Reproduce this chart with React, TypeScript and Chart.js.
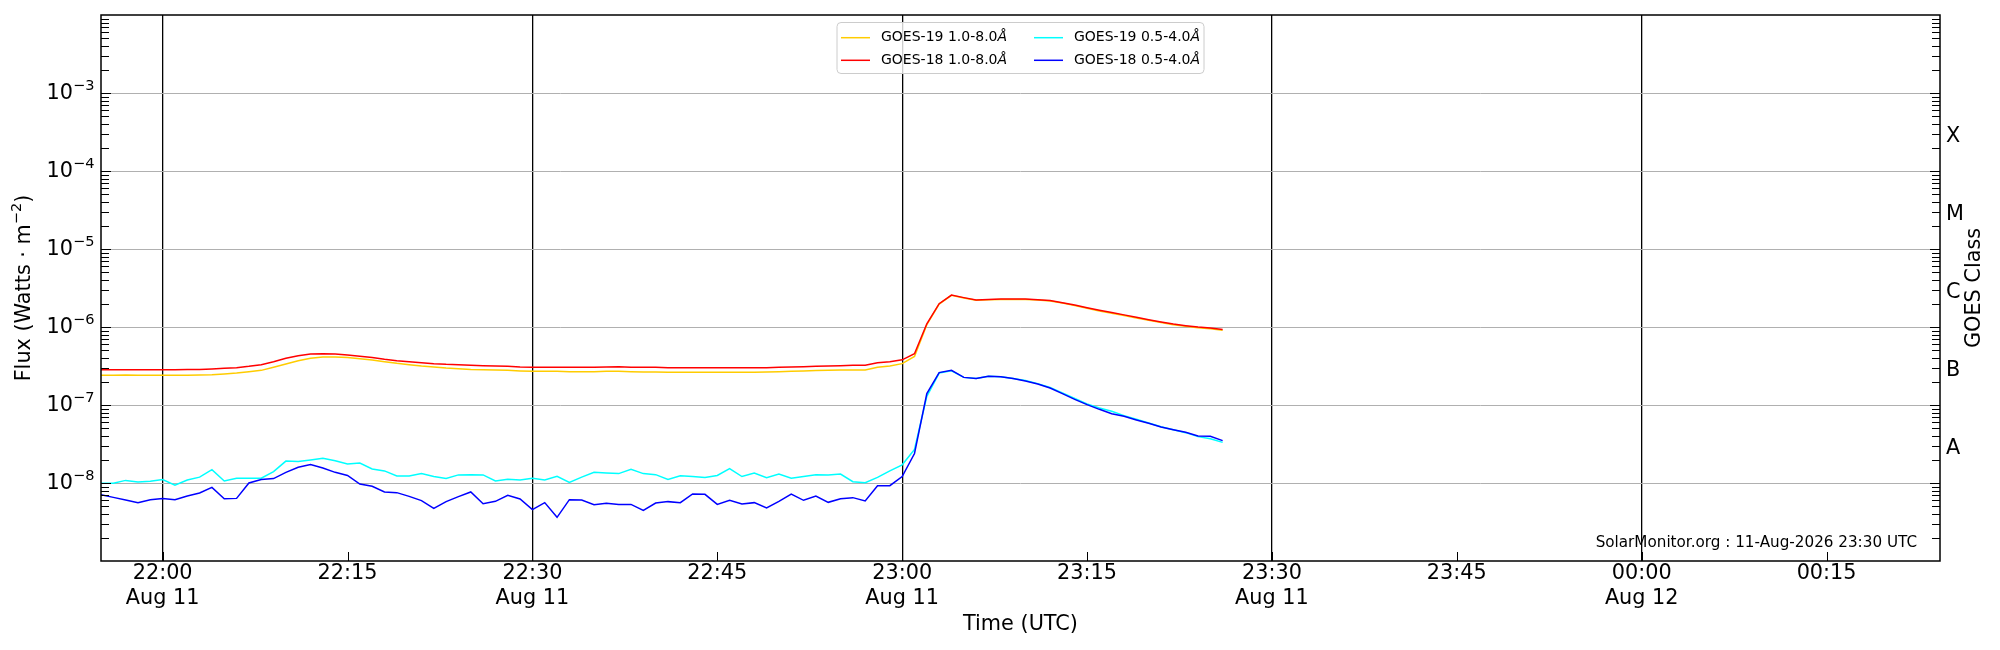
import React, { useEffect, useRef } from 'react';
import { Chart, registerables } from 'chart.js';

Chart.register(...registerables);

const FONT = "'DejaVu Sans', 'Noto Sans', sans-serif";
const FS = 20.8;

// One-minute samples, first sample at 21:55 UTC (minutes relative to 22:00 UTC, 11 Aug)
const START_MINUTE = -5;

const goes19Long = [
  2.40e-7, 2.40e-7, 2.43e-7, 2.40e-7, 2.40e-7, 2.40e-7, 2.40e-7, 2.40e-7, 2.43e-7, 2.45e-7,
  2.50e-7, 2.57e-7, 2.67e-7, 2.78e-7, 3.04e-7, 3.35e-7, 3.70e-7, 3.97e-7, 4.12e-7, 4.12e-7,
  4.05e-7, 3.93e-7, 3.77e-7, 3.59e-7, 3.42e-7, 3.29e-7, 3.16e-7, 3.07e-7, 2.98e-7, 2.92e-7,
  2.86e-7, 2.84e-7, 2.81e-7, 2.78e-7, 2.73e-7, 2.70e-7, 2.70e-7, 2.70e-7, 2.67e-7, 2.67e-7,
  2.67e-7, 2.70e-7, 2.70e-7, 2.67e-7, 2.65e-7, 2.65e-7, 2.62e-7, 2.62e-7, 2.62e-7, 2.62e-7,
  2.62e-7, 2.62e-7, 2.62e-7, 2.62e-7, 2.65e-7, 2.67e-7, 2.70e-7, 2.73e-7, 2.76e-7, 2.78e-7,
  2.81e-7, 2.81e-7, 2.81e-7, 3.04e-7, 3.16e-7, 3.39e-7, 4.19e-7, 1.07e-6, 1.97e-6, 2.55e-6,
  2.36e-6, 2.20e-6, 2.24e-6, 2.26e-6, 2.26e-6, 2.26e-6, 2.22e-6, 2.16e-6, 2.03e-6, 1.88e-6,
  1.74e-6, 1.60e-6, 1.50e-6, 1.40e-6, 1.30e-6, 1.22e-6, 1.14e-6, 1.07e-6, 1.02e-6, 9.8e-7,
  9.5e-7, 9.1e-7,
];

const goes18Long = [
  2.84e-7, 2.84e-7, 2.84e-7, 2.84e-7, 2.84e-7, 2.84e-7, 2.84e-7, 2.86e-7, 2.86e-7, 2.90e-7,
  2.95e-7, 3.01e-7, 3.13e-7, 3.29e-7, 3.59e-7, 3.97e-7, 4.29e-7, 4.51e-7, 4.55e-7, 4.51e-7,
  4.38e-7, 4.21e-7, 4.05e-7, 3.85e-7, 3.70e-7, 3.59e-7, 3.49e-7, 3.39e-7, 3.32e-7, 3.29e-7,
  3.23e-7, 3.19e-7, 3.16e-7, 3.13e-7, 3.07e-7, 3.04e-7, 3.04e-7, 3.04e-7, 3.04e-7, 3.04e-7,
  3.04e-7, 3.07e-7, 3.10e-7, 3.04e-7, 3.04e-7, 3.04e-7, 3.01e-7, 3.01e-7, 3.01e-7, 3.01e-7,
  3.01e-7, 3.01e-7, 3.01e-7, 3.01e-7, 3.01e-7, 3.04e-7, 3.07e-7, 3.10e-7, 3.13e-7, 3.16e-7,
  3.19e-7, 3.23e-7, 3.23e-7, 3.49e-7, 3.59e-7, 3.79e-7, 4.55e-7, 1.10e-6, 1.99e-6, 2.57e-6,
  2.38e-6, 2.22e-6, 2.26e-6, 2.29e-6, 2.29e-6, 2.29e-6, 2.24e-6, 2.18e-6, 2.05e-6, 1.91e-6,
  1.77e-6, 1.64e-6, 1.53e-6, 1.43e-6, 1.33e-6, 1.24e-6, 1.16e-6, 1.09e-6, 1.04e-6, 1.00e-6,
  9.7e-7, 9.3e-7,
];

const goes19Short = [
  9.9e-9, 9.9e-9, 1.08e-8, 1.03e-8, 1.05e-8, 1.11e-8, 9.4e-9, 1.09e-8, 1.19e-8, 1.48e-8,
  1.06e-8, 1.15e-8, 1.15e-8, 1.15e-8, 1.40e-8, 1.91e-8, 1.88e-8, 1.97e-8, 2.07e-8, 1.93e-8,
  1.75e-8, 1.80e-8, 1.51e-8, 1.43e-8, 1.23e-8, 1.23e-8, 1.32e-8, 1.21e-8, 1.14e-8, 1.27e-8,
  1.28e-8, 1.27e-8, 1.06e-8, 1.12e-8, 1.09e-8, 1.15e-8, 1.09e-8, 1.22e-8, 1.02e-8, 1.19e-8,
  1.37e-8, 1.34e-8, 1.32e-8, 1.50e-8, 1.32e-8, 1.28e-8, 1.11e-8, 1.24e-8, 1.21e-8, 1.18e-8,
  1.25e-8, 1.53e-8, 1.21e-8, 1.34e-8, 1.17e-8, 1.30e-8, 1.15e-8, 1.21e-8, 1.28e-8, 1.27e-8,
  1.30e-8, 1.04e-8, 1.01e-8, 1.18e-8, 1.43e-8, 1.71e-8, 2.70e-8, 1.29e-7, 2.57e-7, 2.75e-7,
  2.26e-7, 2.18e-7, 2.33e-7, 2.31e-7, 2.18e-7, 2.06e-7, 1.88e-7, 1.68e-7, 1.43e-7, 1.21e-7,
  1.03e-7, 9.16e-8, 8.3e-8, 7.3e-8, 6.55e-8, 5.88e-8, 5.27e-8, 4.83e-8, 4.42e-8, 3.93e-8,
  3.70e-8, 3.32e-8,
];

const goes18Short = [
  7.08e-9, 6.54e-9, 6.05e-9, 5.60e-9, 6.11e-9, 6.35e-9, 6.11e-9, 6.81e-9, 7.44e-9, 8.80e-9,
  6.29e-9, 6.35e-9, 1.00e-8, 1.11e-8, 1.14e-8, 1.37e-8, 1.59e-8, 1.72e-8, 1.56e-8, 1.37e-8,
  1.25e-8, 9.7e-9, 9.06e-9, 7.67e-9, 7.52e-9, 6.74e-9, 5.94e-9, 4.73e-9, 5.77e-9, 6.68e-9,
  7.67e-9, 5.43e-9, 5.82e-9, 6.95e-9, 6.24e-9, 4.55e-9, 5.60e-9, 3.63e-9, 6.11e-9, 6.05e-9,
  5.27e-9, 5.48e-9, 5.32e-9, 5.32e-9, 4.46e-9, 5.54e-9, 5.77e-9, 5.60e-9, 7.23e-9, 7.16e-9,
  5.32e-9, 6.00e-9, 5.38e-9, 5.60e-9, 4.78e-9, 5.82e-9, 7.23e-9, 6.00e-9, 6.81e-9, 5.65e-9,
  6.29e-9, 6.49e-9, 5.88e-9, 9.24e-9, 9.24e-9, 1.21e-8, 2.39e-8, 1.40e-7, 2.60e-7, 2.78e-7,
  2.26e-7, 2.18e-7, 2.33e-7, 2.31e-7, 2.18e-7, 2.03e-7, 1.86e-7, 1.65e-7, 1.40e-7, 1.18e-7,
  1.01e-7, 8.8e-8, 7.74e-8, 7.16e-8, 6.43e-8, 5.82e-8, 5.23e-8, 4.83e-8, 4.46e-8, 4.01e-8,
  3.97e-8, 3.49e-8,
];

const seriesNames = ['GOES-19 1.0-8.0', 'GOES-18 1.0-8.0', 'GOES-19 0.5-4.0', 'GOES-18 0.5-4.0'];
const seriesUnit = 'Å';
const seriesColors = ['#FFCC00', '#FF0000', '#00FFFF', '#0000FF'];

const xMin = -5; // 21:55
const xMax = 144.2; // ~00:24
const xTickMinutes = [0, 15, 30, 45, 60, 75, 90, 105, 120, 135];
const xTickTimes = ['22:00', '22:15', '22:30', '22:45', '23:00', '23:15', '23:30', '23:45', '00:00', '00:15'];
const xTickDates = ['Aug 11', '', 'Aug 11', '', 'Aug 11', '', 'Aug 11', '', 'Aug 12', ''];

const yMin = 1e-9;
const yMax = 1e-2;
const yTickValues = [1e-8, 1e-7, 1e-6, 1e-5, 1e-4, 1e-3];
const yTickExponents = ['−8', '−7', '−6', '−5', '−4', '−3'];
const classTickValues = [3e-8, 3e-7, 3e-6, 3e-5, 3e-4];
const classTickLabels = ['A', 'B', 'C', 'M', 'X'];

const yTitleParts = ['Flux (Watts · m', '−2', ')'];
const y2Title = 'GOES Class';
const creditText = 'SolarMonitor.org : 11-Aug-2026 23:30 UTC';

const SUP = FS * 0.7;
const SUP_SHIFT = 7.4;

const decorPlugin = {
  id: 'goesDecor',
  afterDatasetsDraw(chart: any) {
    const { ctx, chartArea: a, scales } = chart;
    const ys = scales.y;
    const xs = scales.x;
    ctx.save();

    const seg = (x1: number, y1: number, x2: number, y2: number) => {
      ctx.beginPath();
      ctx.moveTo(x1, y1);
      ctx.lineTo(x2, y2);
      ctx.stroke();
    };

    // inward ticks on both y sides
    ctx.strokeStyle = '#000';
    ctx.lineWidth = 1;
    for (let n = -9; n <= -3; n++) {
      for (let k = 1; k <= 9; k++) {
        if (n === -9 && k === 1) continue;
        const v = k * Math.pow(10, n);
        const py = Math.round(ys.getPixelForValue(v)) + 0.5;
        const len = k === 1 ? 10 : 8;
        seg(a.left, py, a.left + len, py);
        seg(a.right - len, py, a.right, py);
      }
    }
    // inward x ticks
    xTickMinutes.forEach((m) => {
      const px = Math.round(xs.getPixelForValue(m)) + 0.5;
      seg(px, a.bottom, px, a.bottom - 9);
    });

    // legend box
    const lx = 837, ly = 22.5, lw = 367, lh = 51, r = 4;
    ctx.beginPath();
    ctx.moveTo(lx + r, ly);
    ctx.lineTo(lx + lw - r, ly);
    ctx.quadraticCurveTo(lx + lw, ly, lx + lw, ly + r);
    ctx.lineTo(lx + lw, ly + lh - r);
    ctx.quadraticCurveTo(lx + lw, ly + lh, lx + lw - r, ly + lh);
    ctx.lineTo(lx + r, ly + lh);
    ctx.quadraticCurveTo(lx, ly + lh, lx, ly + lh - r);
    ctx.lineTo(lx, ly + r);
    ctx.quadraticCurveTo(lx, ly, lx + r, ly);
    ctx.closePath();
    ctx.fillStyle = 'rgba(255,255,255,0.8)';
    ctx.fill();
    ctx.strokeStyle = '#cccccc';
    ctx.lineWidth = 1;
    ctx.stroke();

    const colX = [841, 1034];
    const textX = [881, 1074];
    const rowY = [37.7, 60.3];
    chart.data.datasets.forEach((ds: any, i: number) => {
      const col = Math.floor(i / 2);
      const row = i % 2;
      const y = rowY[row];
      ctx.strokeStyle = ds.borderColor;
      ctx.lineWidth = 1.5;
      seg(colX[col], y, colX[col] + 29, y);
      ctx.fillStyle = '#000';
      ctx.textBaseline = 'middle';
      ctx.textAlign = 'left';
      ctx.font = `14px ${FONT}`;
      const name = seriesNames[i];
      ctx.fillText(name, textX[col], y);
      const w = ctx.measureText(name).width;
      ctx.font = `italic 14px ${FONT}`;
      ctx.fillText(seriesUnit, textX[col] + w, y);
    });

    // frame
    ctx.strokeStyle = '#000';
    ctx.lineWidth = 1.5;
    ctx.strokeRect(a.left, a.top, a.right - a.left, a.bottom - a.top);

    // left tick labels: 10 with superscript exponent
    ctx.fillStyle = '#000';
    ctx.textBaseline = 'middle';
    ctx.textAlign = 'left';
    yTickValues.forEach((v, i) => {
      const py = ys.getPixelForValue(v);
      ctx.font = `${FS}px ${FONT}`;
      const wb = ctx.measureText('10').width;
      ctx.font = `${SUP}px ${FONT}`;
      const wsup = ctx.measureText(yTickExponents[i]).width;
      const x0 = a.left - 6.5 - wb - wsup;
      ctx.font = `${FS}px ${FONT}`;
      ctx.fillText('10', x0, py + 1);
      ctx.font = `${SUP}px ${FONT}`;
      ctx.fillText(yTickExponents[i], x0 + wb, py + 1 - SUP_SHIFT);
    });

    // left axis title with superscript
    ctx.save();
    ctx.translate(24.5, (a.top + a.bottom) / 2);
    ctx.rotate(-Math.PI / 2);
    ctx.font = `${FS}px ${FONT}`;
    const w1 = ctx.measureText(yTitleParts[0]).width;
    const w3 = ctx.measureText(yTitleParts[2]).width;
    ctx.font = `${SUP}px ${FONT}`;
    const w2 = ctx.measureText(yTitleParts[1]).width;
    let tx = -(w1 + w2 + w3) / 2;
    ctx.textAlign = 'left';
    ctx.textBaseline = 'middle';
    ctx.font = `${FS}px ${FONT}`;
    ctx.fillText(yTitleParts[0], tx, 0);
    tx += w1;
    ctx.font = `${SUP}px ${FONT}`;
    ctx.fillText(yTitleParts[1], tx, -SUP_SHIFT);
    tx += w2;
    ctx.font = `${FS}px ${FONT}`;
    ctx.fillText(yTitleParts[2], tx, 0);
    ctx.restore();

    // credit
    ctx.fillStyle = '#000';
    ctx.font = `15.2px ${FONT}`;
    ctx.textAlign = 'right';
    ctx.textBaseline = 'middle';
    ctx.fillText(creditText, a.right - 23, a.bottom - 18);

    // right axis title
    ctx.save();
    ctx.translate(1975, (a.top + a.bottom) / 2);
    ctx.rotate(-Math.PI / 2);
    ctx.font = `${FS}px ${FONT}`;
    ctx.textAlign = 'center';
    ctx.textBaseline = 'middle';
    ctx.fillText(y2Title, 0, 0);
    ctx.restore();

    ctx.restore();
  },
};

const zeroPad = (s: any) => {
  s.paddingTop = 0;
  s.paddingBottom = 0;
  s.paddingLeft = 0;
  s.paddingRight = 0;
};

export default function App() {
  const canvasRef = useRef<HTMLCanvasElement | null>(null);

  useEffect(() => {
    if (!canvasRef.current) return;
    const series = [goes19Long, goes18Long, goes19Short, goes18Short];
    const drawOrder = [3, 2, 1, 0];
    const chart = new Chart(canvasRef.current, {
      type: 'line',
      data: {
        datasets: series.map((vals, i) => ({
          label: seriesNames[i] + seriesUnit,
          data: vals.map((v, j) => ({ x: START_MINUTE + j, y: v })),
          borderColor: seriesColors[i],
          backgroundColor: seriesColors[i],
          borderWidth: 1.5,
          pointRadius: 0,
          tension: 0,
          fill: false,
          order: drawOrder[i],
        })),
      },
      options: {
        animation: false,
        responsive: false,
        maintainAspectRatio: false,
        devicePixelRatio: 1,
        layout: { padding: { top: 15, left: 0, right: 0, bottom: 0 } },
        plugins: {
          legend: { display: false },
          tooltip: { enabled: false },
        },
        scales: {
          x: {
            type: 'linear',
            min: xMin,
            max: xMax,
            afterBuildTicks: (s: any) => {
              s.ticks = xTickMinutes.map((v) => ({ value: v }));
            },
            afterFit: (s: any) => {
              s.height = 89;
              zeroPad(s);
            },
            ticks: {
              autoSkip: false,
              maxRotation: 0,
              minRotation: 0,
              padding: 1,
              color: '#000',
              font: { family: FONT, size: FS, lineHeight: 1.16 },
              callback: (_v: any, i: number) =>
                xTickDates[i] ? [xTickTimes[i], xTickDates[i]] : xTickTimes[i],
            },
            grid: {
              drawTicks: false,
              lineWidth: 1.3,
              color: (c: any) =>
                c.tick && c.tick.value % 30 === 0 ? '#000000' : 'rgba(0,0,0,0)',
            },
            border: { display: false },
            title: {
              display: true,
              text: 'Time (UTC)',
              color: '#000',
              font: { family: FONT, size: FS, lineHeight: 1.2 },
              padding: { top: 0, bottom: 13 },
            },
          },
          y: {
            type: 'logarithmic',
            position: 'left',
            min: yMin,
            max: yMax,
            afterBuildTicks: (s: any) => {
              s.ticks = yTickValues.map((v) => ({ value: v }));
            },
            afterFit: (s: any) => {
              s.width = 101;
              zeroPad(s);
            },
            ticks: {
              autoSkip: false,
              callback: () => '',
            },
            grid: { drawTicks: false, color: '#b0b0b0', lineWidth: 1 },
            border: { display: false },
          },
          y2: {
            type: 'logarithmic',
            position: 'right',
            min: yMin,
            max: yMax,
            afterBuildTicks: (s: any) => {
              s.ticks = classTickValues.map((v) => ({ value: v }));
            },
            afterFit: (s: any) => {
              s.width = 60;
              zeroPad(s);
            },
            ticks: {
              autoSkip: false,
              padding: 6,
              labelOffset: 3,
              color: '#000',
              font: { family: FONT, size: FS },
              callback: (_v: any, i: number) => classTickLabels[i],
            },
            grid: { display: false, drawTicks: false },
            border: { display: false },
          },
        },
      },
      plugins: [decorPlugin],
    } as any);
    return () => chart.destroy();
  }, []);

  return (
    <div style={{ position: 'absolute', left: 0, top: 0, width: 2000, height: 650, background: '#fff' }}>
      <canvas ref={canvasRef} width={2000} height={650} style={{ width: 2000, height: 650, display: 'block' }} />
    </div>
  );
}
